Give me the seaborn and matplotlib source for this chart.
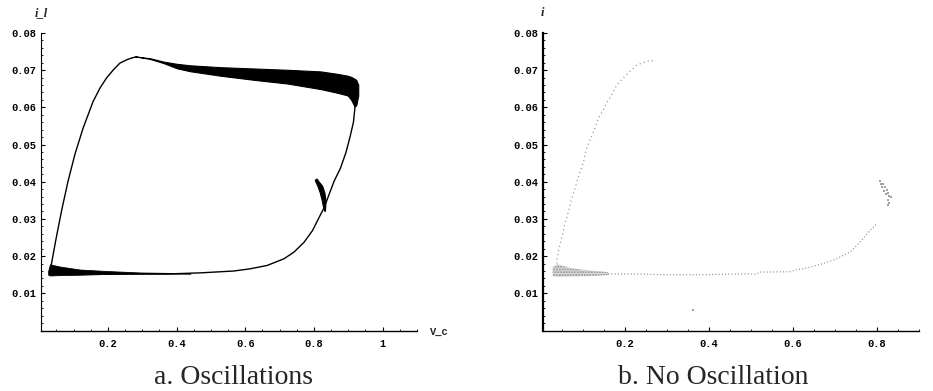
import numpy as np
import pandas as pd
import seaborn as sns
import matplotlib
matplotlib.use("Agg")
import matplotlib.pyplot as plt
from matplotlib.ticker import MultipleLocator, FuncFormatter

# ---------------------------------------------------------------
# Data (V_c, i_l)
# ---------------------------------------------------------------
# a. Oscillations - thin parts of the limit cycle
osc_left_x = [0.033, 0.0357, 0.048, 0.065, 0.084, 0.104, 0.128, 0.157, 0.177, 0.196, 0.216,
              0.235, 0.255, 0.270, 0.284]
osc_left_y = [0.0160, 0.0180, 0.0242, 0.0322, 0.0402, 0.0474, 0.0545, 0.0616, 0.0652, 0.0679, 0.0701,
              0.0719, 0.0728, 0.0733, 0.0736]

osc_right_x = [0.920, 0.915, 0.905, 0.893, 0.877, 0.859, 0.8445, 0.830, 0.815, 0.796, 0.771, 0.742,
               0.713, 0.664, 0.615, 0.567, 0.469, 0.372, 0.300, 0.200, 0.100]
osc_right_y = [0.0605, 0.0560, 0.0520, 0.0478, 0.0436, 0.0402, 0.0367, 0.0331, 0.0304, 0.0269, 0.0237, 0.0211,
               0.0193, 0.0175, 0.0166, 0.0160, 0.0155, 0.0152, 0.0152, 0.0152, 0.0153]

# a. Oscillations - thick (oscillating) bands
top_band_x = [0.279, 0.323, 0.362, 0.401, 0.440, 0.528, 0.625, 0.723, 0.820, 0.869, 0.898, 0.908, 0.918, 0.923, 0.929]
top_band_hi = [0.0737, 0.0732, 0.0723, 0.0717, 0.0713, 0.0708, 0.07045, 0.0701, 0.06966, 0.0690, 0.0685, 0.0682, 0.0677, 0.0674, 0.0661]
top_band_lo = [0.0737, 0.0730, 0.0719, 0.0705, 0.0697, 0.0685, 0.0674, 0.0664, 0.0649, 0.0639, 0.0632, 0.0621, 0.0603, 0.0605, 0.0632]

bot_band_x = [0.026, 0.031, 0.060, 0.118, 0.196, 0.294, 0.440]
bot_band_hi = [0.0160, 0.0178, 0.0172, 0.0164, 0.0160, 0.0156, 0.0154]
bot_band_lo = [0.0150, 0.0148, 0.0149, 0.0150, 0.0152, 0.0153, 0.0153]

spur_y = [0.0322, 0.0335, 0.0353, 0.0371, 0.0389, 0.0404, 0.0408]
spur_xl = [0.830, 0.826, 0.822, 0.817, 0.810, 0.8026, 0.805]
spur_xr = [0.832, 0.833, 0.833, 0.8305, 0.824, 0.811, 0.809]

# b. No Oscillation - sparse dotted trajectory
nosc_up_x = [0.266, 0.260, 0.252, 0.240, 0.228, 0.220, 0.210, 0.196, 0.186, 0.180, 0.164, 0.156,
             0.151, 0.142, 0.136, 0.129, 0.121, 0.114, 0.107, 0.102, 0.097, 0.091, 0.085, 0.081,
             0.077, 0.073, 0.068, 0.063, 0.057, 0.053, 0.049, 0.045, 0.041, 0.039, 0.038]
nosc_up_y = [0.0725, 0.0727, 0.0723, 0.0719, 0.0713, 0.0705, 0.0695, 0.0679, 0.0667, 0.0659, 0.0625, 0.0612,
             0.0598, 0.0581, 0.0567, 0.0545, 0.0523, 0.0505, 0.0483, 0.0456, 0.0438, 0.0420, 0.0398, 0.0380,
             0.0367, 0.0353, 0.0331, 0.0309, 0.0287, 0.0264, 0.0247, 0.0229, 0.0211, 0.0193, 0.0180]

nosc_low_x = [0.160, 0.230, 0.300, 0.380, 0.474, 0.514, 0.521, 0.593, 0.609, 0.625, 0.656, 0.672,
              0.688, 0.704, 0.720, 0.736, 0.752, 0.767, 0.783, 0.801]
nosc_low_y = [0.0152, 0.0152, 0.0150, 0.0150, 0.0152, 0.0152, 0.0157, 0.0158, 0.0164, 0.0166, 0.0175, 0.0180,
              0.0186, 0.0193, 0.0202, 0.0211, 0.0229, 0.0247, 0.0269, 0.0288]

stip_x = [0.028, 0.040, 0.070, 0.100, 0.130, 0.160]
stip_hi = [0.0170, 0.0178, 0.0168, 0.0163, 0.0160, 0.0157]
stip_lo = [0.0146, 0.0144, 0.0145, 0.0146, 0.0147, 0.0149]

cluster_x = [0.806, 0.809, 0.815, 0.811, 0.819, 0.823, 0.817, 0.827, 0.821, 0.829, 0.833, 0.827, 0.829, 0.827, 0.362]
cluster_y = [0.0402, 0.0395, 0.0394, 0.0386, 0.0385, 0.0378, 0.0376, 0.0371, 0.0367, 0.0362, 0.0358, 0.0351, 0.0344, 0.0337, 0.0055]

y_ticks = [0.01, 0.02, 0.03, 0.04, 0.05, 0.06, 0.07, 0.08]
x_ticks_a = [0.2, 0.4, 0.6, 0.8, 1.0]
x_ticks_b = [0.2, 0.4, 0.6, 0.8]

# ---------------------------------------------------------------
# Style
# ---------------------------------------------------------------
sns.set_theme(style="white")
plt.rcParams["font.family"] = ["DejaVu Sans"]
TICK_FONT = dict(family="Liberation Mono", size=7.5, weight="bold")
INK = "black"
DOT = "#8a8a8a"

fig = plt.figure(figsize=(9.33, 3.91), dpi=100)
ax_a = fig.add_axes([0.0439, 0.1547, 0.403, 0.761])
ax_b = fig.add_axes([0.582, 0.1547, 0.403, 0.761])


def style_axes(ax, xlim, xticks, left_lw):
    ax.set_xlim(*xlim)
    ax.set_ylim(0, 0.08)
    for side in ["top", "right"]:
        ax.spines[side].set_visible(False)
    ax.spines["left"].set_linewidth(left_lw)
    ax.spines["bottom"].set_linewidth(1.0)
    ax.spines["left"].set_color(INK)
    ax.spines["bottom"].set_color(INK)
    ax.set_xticks(xticks)
    ax.set_yticks(y_ticks)
    ax.xaxis.set_minor_locator(MultipleLocator(0.05))
    ax.yaxis.set_minor_locator(MultipleLocator(0.002))
    ax.xaxis.set_major_formatter(FuncFormatter(lambda v, p: f"{v:g}"))
    ax.yaxis.set_major_formatter(FuncFormatter(lambda v, p: f"{v:.2f}"))
    ax.tick_params(which="major", direction="in", length=3, width=0.8, color=INK,
                   bottom=True, left=True)
    ax.tick_params(which="minor", direction="in", length=1.6, width=0.6, color=INK,
                   bottom=True, left=True)
    ax.tick_params(axis="x", which="major", pad=6)
    ax.tick_params(axis="y", which="major", pad=3)
    for lab in ax.get_xticklabels() + ax.get_yticklabels():
        lab.set_fontproperties(TICK_FONT)
        lab.set_color(INK)
    ax.set_xlabel("")
    ax.set_ylabel("")


# ---------------------------------------------------------------
# a. Oscillations
# ---------------------------------------------------------------
sns.lineplot(x=osc_left_x, y=osc_left_y, sort=False, estimator=None, color=INK, lw=1.0, ax=ax_a)
sns.lineplot(x=osc_right_x, y=osc_right_y, sort=False, estimator=None, color=INK, lw=1.0, ax=ax_a)
ax_a.fill_between(top_band_x, top_band_lo, top_band_hi, color=INK, lw=0.8)
ax_a.fill_between(bot_band_x, bot_band_lo, bot_band_hi, color=INK, lw=0.6)
ax_a.fill_betweenx(spur_y, spur_xl, spur_xr, color=INK, lw=0.8)
style_axes(ax_a, (0.005, 1.1), x_ticks_a, 0.8)

# ---------------------------------------------------------------
# b. No Oscillation
# ---------------------------------------------------------------
sns.lineplot(x=nosc_up_x, y=nosc_up_y, sort=False, estimator=None, color=DOT, lw=0.9,
             dashes=False, ax=ax_b).lines[-1].set_dashes((0.8, 2.6))
sns.lineplot(x=nosc_low_x, y=nosc_low_y, sort=False, estimator=None, color=DOT, lw=0.9,
             dashes=False, ax=ax_b).lines[-1].set_dashes((0.8, 1.8))
ax_b.fill_between(stip_x, stip_lo, stip_hi, facecolor="#dedede", edgecolor="#8c8c8c",
                  hatch="......", lw=0)
sns.scatterplot(x=cluster_x, y=cluster_y, color="#a0a0a0", s=4, marker="s", linewidth=0, ax=ax_b)
style_axes(ax_b, (0.005, 0.9), x_ticks_b, 1.6)

# ---------------------------------------------------------------
# Labels and captions
# ---------------------------------------------------------------
fig.text(0.0439, 0.966, "i_l", ha="center", va="center", style="italic", weight="bold",
         family="Liberation Serif", fontsize=9)
fig.text(0.581, 0.968, "i", ha="center", va="center", style="italic", weight="bold",
         family="Liberation Serif", fontsize=9)
fig.text(0.461, 0.151, "V_c", ha="left", va="center", fontproperties=TICK_FONT)
fig.text(0.250, 0.035, "a. Oscillations", ha="center", va="center",
         family="Liberation Serif", fontsize=20)
fig.text(0.764, 0.035, "b. No Oscillation", ha="center", va="center",
         family="Liberation Serif", fontsize=20)

fig.savefig("out.png", dpi=100, facecolor="white")
plt.close(fig)
